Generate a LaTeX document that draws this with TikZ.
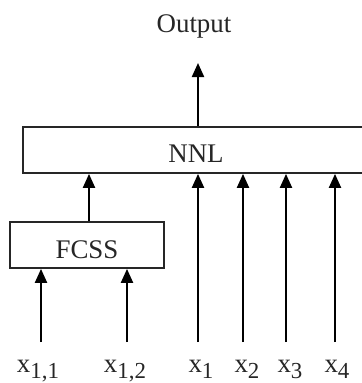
\documentclass[tikz,border=0pt]{standalone}
\usepackage{fontspec}
\setmainfont{Liberation Serif}
\usetikzlibrary{arrows.meta}
\newcommand{\lbl}[2]{x\raisebox{-0.26em}{\fontsize{23}{23}\selectfont #2}}
\begin{document}
\begin{tikzpicture}[x=1bp,y=-1bp,
  every node/.style={font=\fontsize{27}{30}\selectfont, inner sep=0pt, text=black!85},
  boxst/.style={draw=black!85, line width=1.8bp, rectangle},
  arr/.style={draw=black, line width=2.2bp, -{Triangle[width=12bp,length=14bp]}}]
\useasboundingbox (0,0) rectangle (362,383);
\clip (0,0) rectangle (362,383);
\node[boxst, minimum width=348bp, minimum height=46bp] (NNL) at (197,150) {};
\node[anchor=base] (NNLt) at (196,162) {NNL};
\node[boxst, minimum width=154bp, minimum height=46bp] (FCSS) at (87,245) {};
\node[anchor=base] (FCSSt) at (87,258) {FCSS};
\node[anchor=base] (out) at (194,32) {Output};
\coordinate (otip) at (198,63);
\draw[arr] (NNL.north -| otip) -- (otip);
\draw[arr] (FCSS.north -| 89,0) -- (NNL.south -| 89,0);
% inputs
\node[anchor=base] (l11) at (38,372) {\lbl{}{1,1}};
\node[anchor=base] (l12) at (125,372) {\lbl{}{1,2}};
\node[anchor=base] (l1) at (201,372) {\lbl{}{1}};
\node[anchor=base] (l2) at (247,372) {\lbl{}{2}};
\node[anchor=base] (l3) at (290,372) {\lbl{}{3}};
\node[anchor=base] (l4) at (337,372) {\lbl{}{4}};
\coordinate (s11) at (41,342);
\coordinate (s12) at (127,342);
\coordinate (s1) at (198,342);
\coordinate (s2) at (243,342);
\coordinate (s3) at (286,342);
\coordinate (s4) at (335,342);
\draw[arr] (s11) -- (s11 |- FCSS.south);
\draw[arr] (s12) -- (s12 |- FCSS.south);
\draw[arr] (s1) -- (s1 |- NNL.south);
\draw[arr] (s2) -- (s2 |- NNL.south);
\draw[arr] (s3) -- (s3 |- NNL.south);
\draw[arr] (s4) -- (s4 |- NNL.south);
\end{tikzpicture}
\end{document}
